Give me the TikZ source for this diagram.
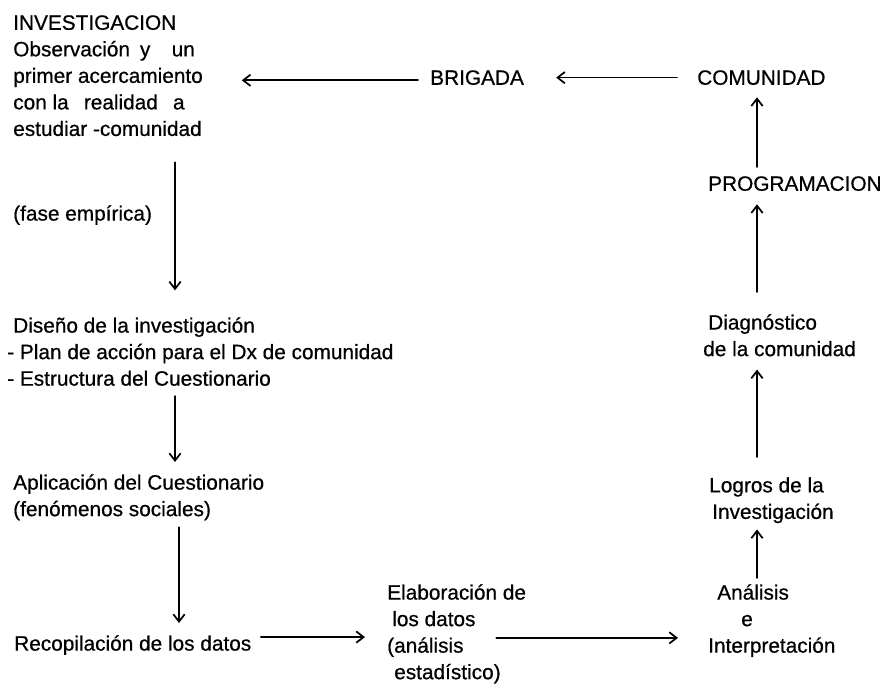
\documentclass[tikz,border=0pt]{standalone}
\usepackage{fontspec}
\setmainfont{Liberation Sans}[FakeBold=0.6]
\newfontfamily\scanfont{Liberation Sans}[FakeBold=0.6]
\usetikzlibrary{arrows.meta,calc}
\tikzset{
  lbl/.style={anchor=north west, align=left, inner sep=0pt, font=\scanfont\fontsize{15.6pt}{19.9pt}\selectfont},
  flw/.style={-{Straight Barb[length=5.5pt,width=8.5pt]}, line width=1.3pt},
  every picture/.style={line cap=round, line join=round}
}
\begin{document}
\begin{tikzpicture}[x=0.75pt,y=-0.75pt]
  \useasboundingbox (0,0) rectangle (883,684);
  \coordinate (lcol) at (175,0);
  \coordinate (rcol) at (757,0);
  \node[lbl] (inv) at (13,15) {INVESTIGACION\\Observación\hspace{.2em} y\hspace{.75em} un\\primer acercamiento\\con la\hspace{.45em} realidad\hspace{.45em} a\\estudiar -comunidad};
  \node[lbl] (fase) at (13,205) {(fase empírica)};
  \node[lbl] (dis) at (7,317) {\hspace*{4.5pt}Diseño de la investigación\\- Plan de acción para el Dx de comunidad\\- Estructura del Cuestionario};
  \node[lbl] (apl) at (13,474) {Aplicación del Cuestionario\\(fenómenos sociales)};
  \node[lbl] (rec) at (14,635) {Recopilación de los datos};
  \node[lbl] (ela) at (387,584) {Elaboración de\\\hspace*{3.75pt}los datos\\(análisis\\\hspace*{5.25pt}estadístico)};
  \node[lbl] (ana) at (708,584) {\hspace*{6.75pt}Análisis\\\hspace*{24.75pt}e\\Interpretación};
  \node[lbl] (log) at (709,477) {Logros de la\\\hspace*{2.25pt}Investigación};
  \node[lbl] (diag) at (703,314) {\hspace*{3.75pt}Diagnóstico\\de la comunidad};
  \node[lbl] (prog) at (708,176) {PROGRAMACION};
  \node[lbl] (com) at (697,70) {COMUNIDAD};
  \node[lbl] (bri) at (430,70) {BRIGADA};

  \draw[flw, shorten <=19.5pt, shorten >=20pt] (inv.south -| lcol) -- (dis.north -| lcol);
  \draw[flw, shorten <=7.5pt, shorten >=9pt] (dis.south -| lcol) -- (apl.north -| lcol);
  \draw[flw, shorten <=5pt, shorten >=9pt] ([xshift=3pt]apl.south -| lcol) -- ([xshift=3pt]rec.north -| lcol);
  \draw[flw, shorten <=7pt, shorten >=16.5pt] ([yshift=6pt]rec.east) -- ([yshift=6pt]rec.east -| ela.west);
  \draw[flw, shorten >=22.5pt] ([xshift=-22.5pt,yshift=-3pt]ela.east) -- ([yshift=-3pt]ela.east -| ana.west);
  \draw[flw, shorten <=4.5pt, shorten >=4.5pt] (ana.north -| rcol) -- (log.south -| rcol);
  \draw[flw, shorten <=15pt, shorten >=9.75pt] (log.north -| rcol) -- (diag.south -| rcol);
  \draw[flw, shorten <=16.5pt, shorten >=9.75pt] (diag.north -| rcol) -- (prog.south -| rcol);
  \draw[flw, shorten <=6.75pt, shorten >=9pt] (prog.north -| rcol) -- (com.south -| rcol);
  \draw[flw, shorten <=15pt, shorten >=24pt] (com.west) -- (bri.east);
  \draw[flw, shorten <=9pt, shorten >=29pt] ([yshift=-2pt]bri.west) -- ([yshift=-2pt]bri.west -| inv.east);
\end{tikzpicture}
\end{document}
